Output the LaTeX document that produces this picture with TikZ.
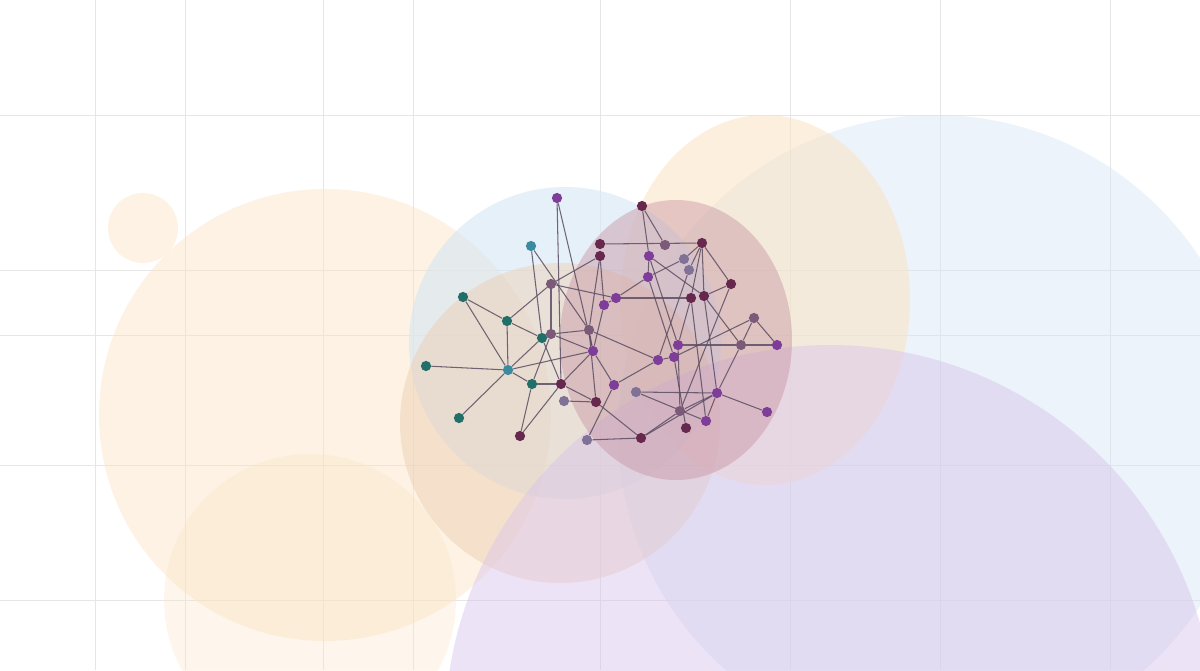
\documentclass[tikz,border=0pt]{standalone}
\usetikzlibrary{backgrounds}
\definecolor{peach}{HTML}{FCE3C2}
\definecolor{skyblue}{HTML}{D6E6F5}
\definecolor{tan}{HTML}{EDCDAE}
\definecolor{rose}{HTML}{C48E9E}
\definecolor{lavender}{HTML}{D8C2EC}
\definecolor{gridgrey}{HTML}{E6E6E6}
\definecolor{edgecol}{HTML}{5B4D63}
\definecolor{teal}{HTML}{226E68}
\definecolor{tealblue}{HTML}{3B8BA0}
\definecolor{violet}{HTML}{7D3D98}
\definecolor{mauve}{HTML}{7A5A78}
\definecolor{maroon}{HTML}{67284E}
\definecolor{greyv}{HTML}{7F7296}
\pgfdeclarelayer{blobs}
\pgfdeclarelayer{links}
\pgfsetlayers{blobs,links,main}
\tikzset{
  dot/.style={circle, fill=#1, inner sep=0pt, minimum size=0.205cm},
  link/.style={draw=edgecol, line width=0.6pt, draw opacity=0.85},
  blob/.style={fill=#1, fill opacity=0.45}
}
\begin{document}
\begin{tikzpicture}[x=0.02cm, y=-0.02cm]
\useasboundingbox (0,0) rectangle (1200,670);
\begin{pgfonlayer}{blobs}
\fill[white] (0,0) rectangle (1200,670);
% faint grid
\foreach \gx in {95,185,323,413,600,790,940,1110}
  {\draw[gridgrey, line width=0.4pt] (\gx,0) -- (\gx,670);}
\foreach \gy in {115,270,335,465,600}
  {\draw[gridgrey, line width=0.4pt] (0,\gy) -- (1200,\gy);}
% translucent circles
\begin{scope}
\clip (0,0) rectangle (1200,670);
\fill[blob=peach] (143,228) circle (35);
\fill[blob=peach] (325,415) circle (226);
\fill[blob=peach, fill opacity=0.3] (310,600) circle (146);
\fill[blob=skyblue] (935,432) circle (317);
\fill[blob=peach, fill opacity=0.55] (765,300) ellipse (145 and 185);
\fill[blob=skyblue, fill opacity=0.6] (565,343) circle (156);
\fill[blob=tan] (560,423) circle (160);
\fill[blob=lavender, fill opacity=0.45] (830,730) circle (385);
\fill[blob=rose, fill opacity=0.42] (676,340) ellipse (116 and 140);
\end{scope}
\end{pgfonlayer}
% network nodes
\foreach \n/\x/\y/\c in {
  n1/557/198/violet, n2/531/246/tealblue, n3/642/206/maroon, n4/600/244/maroon,
  n5/600/256/maroon, n6/665/245/mauve, n7/702/243/maroon, n8/649/256/violet,
  n9/684/259/greyv, n10/689/270/greyv, n11/551/284/mauve, n12/648/277/violet,
  n13/731/284/maroon, n14/463/297/teal, n15/616/298/violet, n16/604/305/violet,
  n17/691/298/maroon, n18/704/296/maroon, n19/507/321/teal, n20/754/318/mauve,
  n21/542/338/teal, n22/551/334/mauve, n23/589/330/mauve, n24/593/351/violet,
  n25/678/345/violet, n26/741/345/mauve, n27/777/345/violet, n28/658/360/violet,
  n29/674/357/violet, n30/426/366/teal, n31/508/370/tealblue, n32/532/384/teal,
  n33/561/384/maroon, n34/614/385/violet, n35/636/392/greyv, n36/717/393/violet,
  n37/564/401/greyv, n38/596/402/maroon, n39/459/418/teal, n40/680/411/mauve,
  n41/767/412/violet, n42/706/421/violet, n43/686/428/maroon, n44/520/436/maroon,
  n45/587/440/greyv, n46/641/438/maroon}
  {\node[dot=\c] (\n) at (\x,\y) {};}
% links
\begin{pgfonlayer}{links}
\foreach \a/\b in {
  n14/n19, n14/n31, n19/n21, n19/n31, n19/n11, n30/n31, n31/n39, n31/n32,
  n31/n21, n31/n24, n21/n22, n32/n33, n32/n44, n2/n21, n2/n23, n1/n33,
  n1/n24, n11/n5, n11/n22, n11/n15, n22/n23, n22/n24, n22/n32, n33/n21,
  n33/n24, n33/n44, n33/n38, n37/n38, n38/n46, n38/n23, n45/n46, n45/n34,
  n34/n24, n34/n28, n35/n36, n35/n42, n46/n40, n46/n36, n40/n36, n40/n25,
  n43/n29, n42/n17, n42/n36, n36/n41, n36/n26, n36/n18, n23/n28, n29/n20,
  n25/n26, n26/n27, n20/n26, n20/n27, n18/n26, n8/n25, n10/n28, n8/n18,
  n8/n3, n3/n6, n4/n7, n5/n23, n5/n16, n15/n16, n15/n12, n15/n17,
  n16/n24, n12/n9, n7/n9, n7/n17, n7/n18, n7/n13, n13/n18, n13/n40,
  n17/n25, n23/n24, n28/n29, n12/n29, n10/n7, n12/n8}
  {\draw[link] (\a) -- (\b);}
\end{pgfonlayer}
\end{tikzpicture}
\end{document}
